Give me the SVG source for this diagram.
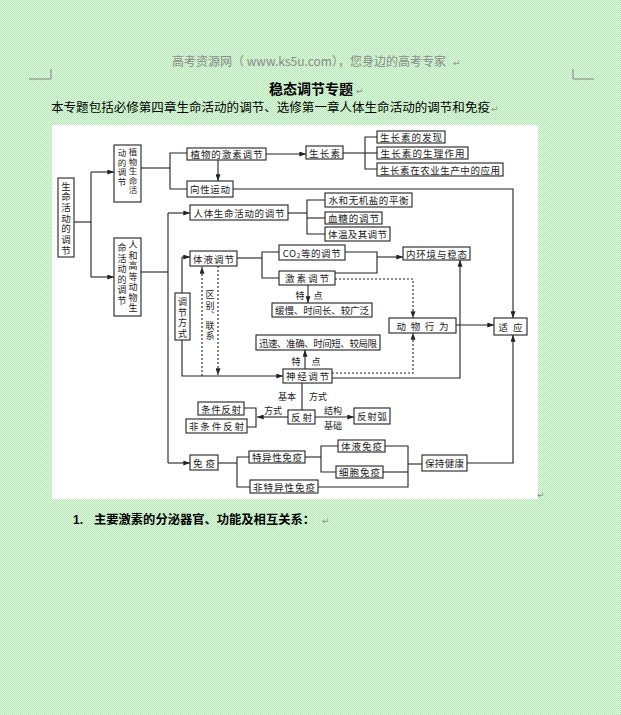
<svg xmlns="http://www.w3.org/2000/svg" width="621" height="715" viewBox="0 0 621 715">
<defs>
<pattern id="bg" width="2" height="2" patternUnits="userSpaceOnUse">
<rect width="2" height="2" fill="#e2f8e2"/>
<rect width="1" height="1" fill="#b2e8b2"/>
<rect x="1" y="1" width="1" height="1" fill="#b2e8b2"/>
</pattern>
<marker id="ah" viewBox="0 0 8 6" refX="8" refY="3" markerWidth="7" markerHeight="5" markerUnits="userSpaceOnUse" orient="auto">
<path d="M0,0 L8,3 L0,6 z" fill="#222"/>
</marker>
<style>
.t{font-family:"Noto Sans CJK SC","Noto Sans",sans-serif;fill:#222;font-size:9.5px}
.vt{font-family:"Noto Sans CJK SC","Noto Sans",sans-serif;fill:#222;writing-mode:vertical-rl}
.s{font-family:"Noto Sans CJK SC","Noto Sans",sans-serif;fill:#222;font-size:9px}
.b{fill:#fff;stroke:#222;stroke-width:1.1}
.l{fill:none;stroke:#222;stroke-width:1.1}
.d{fill:none;stroke:#222;stroke-width:1.1;stroke-dasharray:2,2}
.a{marker-end:url(#ah)}
.ret{font-family:"DejaVu Sans",sans-serif;fill:#909090;font-size:9px}
</style>
</defs>
<rect width="621" height="715" fill="url(#bg)"/>
<!-- page header -->
<text x="309" y="66" text-anchor="middle" font-family="Noto Sans CJK SC, sans-serif" font-size="12" fill="#8a8a8a">高考资源网（ www.ks5u.com），您身边的高考专家</text>
<text x="453" y="66" class="ret">↵</text>
<polyline points="29,79 51,79 51,69" fill="none" stroke="#808080" stroke-width="1"/>
<polyline points="594,79 573,79 573,69" fill="none" stroke="#808080" stroke-width="1"/>
<text x="311" y="94" text-anchor="middle" font-family="Noto Sans CJK SC, sans-serif" font-size="14" font-weight="bold" fill="#000">稳态调节专题</text>
<text x="356" y="94" class="ret">↵</text>
<text x="51" y="112" font-family="Noto Sans CJK SC, sans-serif" font-size="12" fill="#000" textLength="439" lengthAdjust="spacingAndGlyphs">本专题包括必修第四章生命活动的调节、选修第一章人体生命活动的调节和免疫</text>
<text x="491" y="112" class="ret">↵</text>
<!-- image area -->
<rect x="52" y="125" width="486" height="374" fill="#fff"/>
<text x="537" y="498" class="ret">↵</text>
<text x="73" y="524" font-family="Liberation Sans, sans-serif" font-size="12" font-weight="bold" fill="#000">1.</text>
<text x="94" y="524" font-family="Noto Sans CJK SC, sans-serif" font-size="12" font-weight="bold" fill="#000" textLength="221" lengthAdjust="spacingAndGlyphs">主要激素的分泌器官、功能及相互关系：</text>
<text x="322" y="524" class="ret">↵</text>

<!-- connectors -->
<g id="connectors">
<polyline class="l" points="74,222 91,222"/>
<polyline class="l" points="91,172 91,277"/>
<line class="l a" x1="91" y1="172" x2="114" y2="172"/>
<line class="l a" x1="91" y1="277" x2="114" y2="277"/>
<polyline class="l" points="141,168 170,168"/>
<polyline class="l" points="187,153 170,153 170,189 187,189"/>
<line class="l a" x1="266" y1="154" x2="306" y2="154"/>
<line class="l a" x1="218" y1="160" x2="218" y2="181"/>
<polyline class="l a" points="233,189 513,189 513,318"/>
<polyline class="l" points="343,153 365,153"/>
<polyline class="l" points="377,137 365,137 365,169 377,169"/>
<line class="l" x1="365" y1="153" x2="377" y2="153"/>
<polyline class="l" points="141,272 168,272"/>
<polyline class="l" points="168,213 168,463"/>
<line class="l a" x1="168" y1="213" x2="190" y2="213"/>
<line class="l a" x1="168" y1="463" x2="190" y2="463"/>
<polyline class="l" points="288,213 307,213"/>
<polyline class="l" points="325,200 307,200 307,234 325,234"/>
<line class="l" x1="307" y1="218" x2="325" y2="218"/>
<line class="l a" x1="182" y1="257" x2="190" y2="257"/>
<line class="l" x1="182" y1="257" x2="182" y2="293"/>
<polyline class="l a" points="182,340 182,376 283,376"/>
<line class="d a" x1="202" y1="376" x2="202" y2="267"/>
<line class="d a" x1="218" y1="266" x2="218" y2="375"/>
<polyline class="l" points="237,258 262,258"/>
<polyline class="l" points="279,252 262,252 262,278 279,278"/>
<polyline class="l" points="345,252 377,252 377,273 335,273"/>
<line class="l a" x1="377" y1="257" x2="403" y2="257"/>
<polyline class="d a" points="335,279 413,279 413,318"/>
<line class="l a" x1="308" y1="285" x2="308" y2="303"/>
<line class="l a" x1="305" y1="369" x2="305" y2="350"/>
<polyline class="l a" points="332,378 460,378 460,260"/>
<polyline class="d a" points="332,373 413,373 413,333"/>
<line class="l a" x1="456" y1="325" x2="494" y2="325"/>
<line class="l" x1="302" y1="383" x2="302" y2="410"/>
<line class="l a" x1="315" y1="417" x2="354" y2="417"/>
<line class="l a" x1="288" y1="417" x2="257" y2="417"/>
<polyline class="l" points="244,408 256,408 256,427 247,427"/>
<polyline class="l" points="218,463 237,463"/>
<polyline class="l" points="249,457 237,457 237,487 250,487"/>
<polyline class="l" points="305,457 321,457"/>
<polyline class="l" points="338,446 321,446 321,472 336,472"/>
<polyline class="l" points="385,446 408,446 408,487 318,487"/>
<line class="l" x1="383" y1="472" x2="408" y2="472"/>
<line class="l" x1="408" y1="464" x2="422" y2="464"/>
<polyline class="l a" points="467,463 513,463 513,335"/>
</g>

<!-- connector labels -->
<g id="labels">
<text class="s" x="300" y="295" text-anchor="middle" dominant-baseline="central">特</text>
<text class="s" x="318" y="295" text-anchor="middle" dominant-baseline="central">点</text>
<text class="s" x="296" y="361" text-anchor="middle" dominant-baseline="central">特</text>
<text class="s" x="316" y="361" text-anchor="middle" dominant-baseline="central">点</text>
<text class="s" x="287" y="396" text-anchor="middle" dominant-baseline="central">基本</text>
<text class="s" x="318" y="396" text-anchor="middle" dominant-baseline="central">方式</text>
<text class="s" x="273" y="410" text-anchor="middle" dominant-baseline="central">方式</text>
<text class="s" x="333" y="410" text-anchor="middle" dominant-baseline="central">结构</text>
<text class="s" x="333" y="425" text-anchor="middle" dominant-baseline="central">基础</text>
<text class="vt" x="210" y="290.5" font-size="9" letter-spacing="1.25">区别、联系</text>
</g>

<!-- nodes -->
<g id="n-root">
<rect class="b" x="58" y="178" width="16" height="79"/>
<text class="vt" x="66" y="181.25" font-size="9.5" letter-spacing="1.2">生命活动的调节</text>
</g>
<g id="n-plant">
<rect class="b" x="114" y="145" width="27" height="57"/>
<text class="vt" x="133" y="147.75" font-size="8.5" letter-spacing="1">植物生命活</text>
<text class="vt" x="122" y="148.75" font-size="8.5" letter-spacing="1">动的调节</text>
</g>
<g id="n-animal">
<rect class="b" x="114" y="238" width="27" height="78"/>
<text class="vt" x="133" y="240.5" font-size="9" letter-spacing="1.5">人和高等动物生</text>
<text class="vt" x="122" y="243.5" font-size="9" letter-spacing="1.5">命活动的调节</text>
</g>
<g id="n-planthormone"><rect class="b" x="187" y="148" width="79" height="12"/><text class="t" x="226.5" y="154" text-anchor="middle" dominant-baseline="central" textLength="72" lengthAdjust="spacing">植物的激素调节</text></g>
<g id="n-auxin"><rect class="b" x="306" y="146" width="37" height="13"/><text class="t" x="324.5" y="152.5" text-anchor="middle" dominant-baseline="central" textLength="31" lengthAdjust="spacing">生长素</text></g>
<g id="n-a1"><rect class="b" x="377" y="131" width="68" height="12"/><text class="t" x="411" y="137" text-anchor="middle" dominant-baseline="central" textLength="62" lengthAdjust="spacing">生长素的发现</text></g>
<g id="n-a2"><rect class="b" x="377" y="147" width="91" height="12"/><text class="t" x="422.5" y="153" text-anchor="middle" dominant-baseline="central" textLength="84" lengthAdjust="spacing">生长素的生理作用</text></g>
<g id="n-a3"><rect class="b" x="377" y="163" width="126" height="13"/><text class="t" x="440" y="169.5" text-anchor="middle" dominant-baseline="central" textLength="120" lengthAdjust="spacing">生长素在农业生产中的应用</text></g>
<g id="n-tropism"><rect class="b" x="187" y="181" width="46" height="16"/><text class="t" x="210" y="189" text-anchor="middle" dominant-baseline="central" textLength="40" lengthAdjust="spacing">向性运动</text></g>
<g id="n-human"><rect class="b" x="190" y="205" width="98" height="15"/><text class="t" x="239" y="212.5" text-anchor="middle" dominant-baseline="central" textLength="91" lengthAdjust="spacing">人体生命活动的调节</text></g>
<g id="n-water"><rect class="b" x="325" y="193" width="87" height="14"/><text class="t" x="368.5" y="200" text-anchor="middle" dominant-baseline="central" textLength="80" lengthAdjust="spacing">水和无机盐的平衡</text></g>
<g id="n-sugar"><rect class="b" x="325" y="212" width="57" height="12"/><text class="t" x="353.5" y="218" text-anchor="middle" dominant-baseline="central" textLength="51" lengthAdjust="spacing">血糖的调节</text></g>
<g id="n-temp"><rect class="b" x="325" y="227" width="65" height="14"/><text class="t" x="357.5" y="234" text-anchor="middle" dominant-baseline="central" textLength="59" lengthAdjust="spacing">体温及其调节</text></g>
<g id="n-fluid"><rect class="b" x="190" y="251" width="47" height="15"/><text class="t" x="213.5" y="258.5" text-anchor="middle" dominant-baseline="central" textLength="41" lengthAdjust="spacing">体液调节</text></g>
<g id="n-mode">
<rect class="b" x="175" y="293" width="15" height="47"/>
<text class="vt" x="182.5" y="297.5" font-size="9" letter-spacing="1.5">调节方式</text>
</g>
<g id="n-co2"><rect class="b" x="279" y="245" width="66" height="15"/><text class="t" x="312" y="252.5" text-anchor="middle" dominant-baseline="central" letter-spacing="0.6">CO<tspan font-size="6.5" dy="2.5">2</tspan><tspan dy="-2.5">等的调节</tspan></text></g>
<g id="n-hormone"><rect class="b" x="279" y="271" width="56" height="14"/><text class="t" x="307" y="278" text-anchor="middle" dominant-baseline="central" textLength="44" lengthAdjust="spacing">激素调节</text></g>
<g id="n-internal"><rect class="b" x="403" y="247" width="67" height="13"/><text class="t" x="436.5" y="253.5" text-anchor="middle" dominant-baseline="central" textLength="61" lengthAdjust="spacing">内环境与稳态</text></g>
<g id="n-slow"><rect class="b" x="272" y="303" width="100" height="14"/><text class="t" x="322" y="310" text-anchor="middle" dominant-baseline="central" textLength="94" lengthAdjust="spacing">缓慢、时间长、较广泛</text></g>
<g id="n-behavior"><rect class="b" x="389" y="318" width="67" height="15"/><text class="t" x="422.5" y="325.5" text-anchor="middle" dominant-baseline="central" textLength="52" lengthAdjust="spacing">动物行为</text></g>
<g id="n-adapt"><rect class="b" x="494" y="318" width="33" height="17"/><text class="t" x="510.5" y="326.5" text-anchor="middle" dominant-baseline="central" textLength="24" lengthAdjust="spacing">适应</text></g>
<g id="n-fast"><rect class="b" x="256" y="335" width="124" height="15"/><text class="t" x="318" y="342.5" text-anchor="middle" dominant-baseline="central" textLength="118" lengthAdjust="spacing">迅速、准确、时间短、较局限</text></g>
<g id="n-nerve"><rect class="b" x="283" y="369" width="49" height="14"/><text class="t" x="307.5" y="376" text-anchor="middle" dominant-baseline="central" textLength="43" lengthAdjust="spacing">神经调节</text></g>
<g id="n-cond"><rect class="b" x="198" y="402" width="46" height="13"/><text class="t" x="221" y="408.5" text-anchor="middle" dominant-baseline="central" textLength="40" lengthAdjust="spacing">条件反射</text></g>
<g id="n-uncond"><rect class="b" x="186" y="419" width="61" height="14"/><text class="t" x="216.5" y="426" text-anchor="middle" dominant-baseline="central" textLength="55" lengthAdjust="spacing">非条件反射</text></g>
<g id="n-reflex"><rect class="b" x="288" y="410" width="27" height="14"/><text class="t" x="301.5" y="417" text-anchor="middle" dominant-baseline="central" textLength="21" lengthAdjust="spacing">反射</text></g>
<g id="n-arc"><rect class="b" x="354" y="408" width="36" height="16"/><text class="t" x="372" y="416" text-anchor="middle" dominant-baseline="central" textLength="30" lengthAdjust="spacing">反射弧</text></g>
<g id="n-immune"><rect class="b" x="190" y="455" width="28" height="15"/><text class="t" x="204" y="462.5" text-anchor="middle" dominant-baseline="central" textLength="22" lengthAdjust="spacing">免疫</text></g>
<g id="n-specific"><rect class="b" x="249" y="451" width="56" height="12"/><text class="t" x="277" y="457" text-anchor="middle" dominant-baseline="central" textLength="50" lengthAdjust="spacing">特异性免疫</text></g>
<g id="n-nonspecific"><rect class="b" x="250" y="480" width="68" height="13"/><text class="t" x="284" y="486.5" text-anchor="middle" dominant-baseline="central" textLength="62" lengthAdjust="spacing">非特异性免疫</text></g>
<g id="n-humoral"><rect class="b" x="338" y="440" width="47" height="12"/><text class="t" x="361.5" y="446" text-anchor="middle" dominant-baseline="central" textLength="41" lengthAdjust="spacing">体液免疫</text></g>
<g id="n-cell"><rect class="b" x="336" y="466" width="47" height="12"/><text class="t" x="359.5" y="472" text-anchor="middle" dominant-baseline="central" textLength="41" lengthAdjust="spacing">细胞免疫</text></g>
<g id="n-health"><rect class="b" x="422" y="455" width="45" height="16"/><text class="t" x="444.5" y="463" text-anchor="middle" dominant-baseline="central" textLength="39" lengthAdjust="spacing">保持健康</text></g>
</svg>
